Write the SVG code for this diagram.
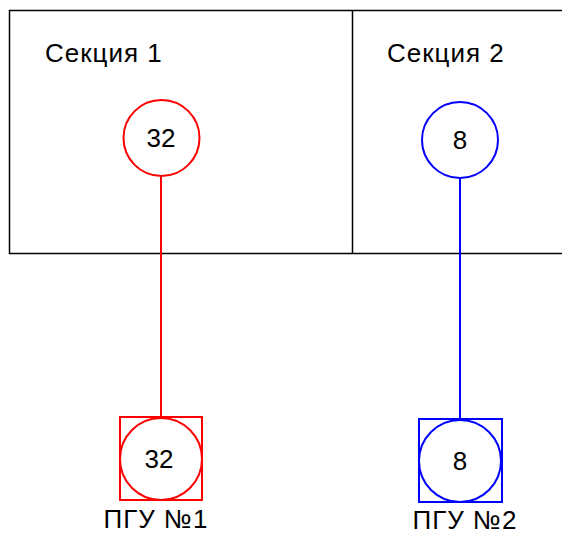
<svg xmlns="http://www.w3.org/2000/svg" width="562" height="535" viewBox="0 0 562 535">
<style>
text{font-family:"Liberation Sans",Arial,sans-serif;font-size:26px;fill:#000}
.c{text-anchor:middle}
.sp{letter-spacing:1px}
.frame{fill:none;stroke:#000;stroke-width:1.5}
.red{fill:none;stroke:#ff0000;stroke-width:2}
.blue{fill:none;stroke:#0000ff;stroke-width:2}
</style>
<rect width="562" height="535" fill="#fff"/>
<g id="sections">
<path class="frame" d="M563 10.5H9.5V253.5H563M352.5 10.5V253.5"/>
<text class="sp" x="45" y="62">Секция 1</text>
<text class="sp" x="387" y="62">Секция 2</text>
</g>
<g id="connectors">
<line class="red" x1="161" y1="176" x2="161" y2="418"/>
<line class="blue" x1="460" y1="178" x2="460" y2="420"/>
</g>
<g id="node-s1">
<circle class="red" cx="161.5" cy="138" r="38"/>
<text class="c" x="161" y="147">32</text>
</g>
<g id="node-s2">
<circle class="blue" cx="460" cy="140" r="38"/>
<text class="c" x="460" y="149">8</text>
</g>
<g id="pgu1">
<rect class="red" x="120" y="417" width="82" height="83"/>
<circle class="red" cx="161" cy="459" r="41"/>
<text class="c" x="159" y="468">32</text>
<text class="c sp" x="156" y="528">ПГУ №1</text>
</g>
<g id="pgu2">
<rect class="blue" x="419" y="419" width="83" height="83"/>
<circle class="blue" cx="460" cy="461" r="41"/>
<text class="c" x="460" y="470">8</text>
<text class="c sp" x="465" y="529">ПГУ №2</text>
</g>
</svg>
